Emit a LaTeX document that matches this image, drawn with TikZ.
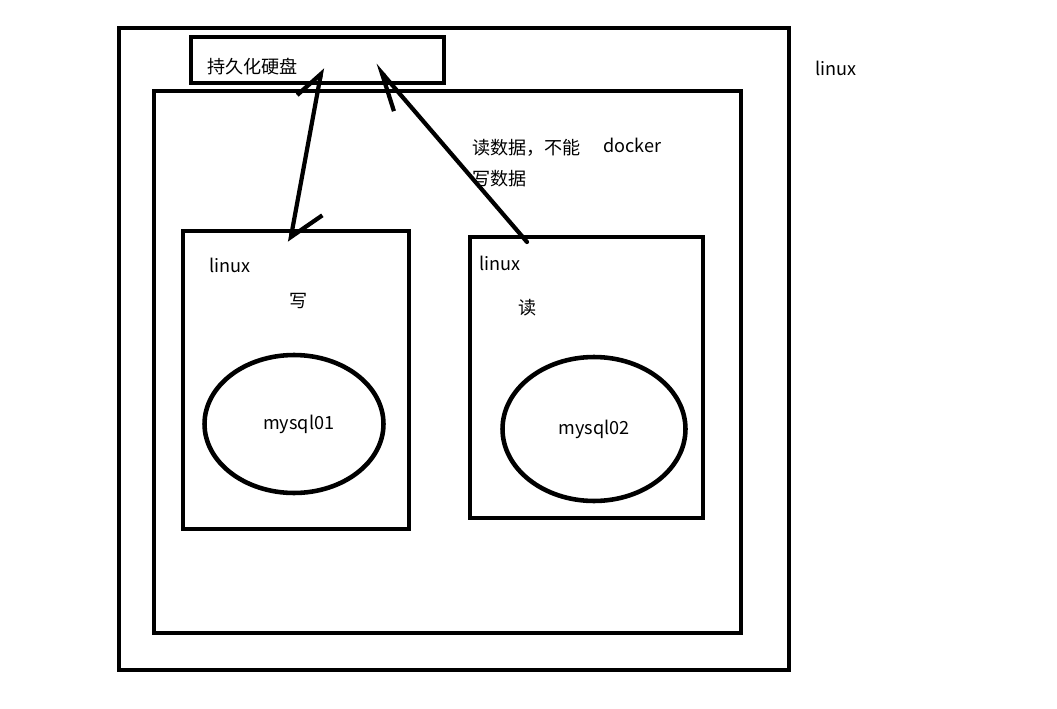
\documentclass[tikz,border=0pt]{standalone}
\usepackage{fontspec}
\setmainfont{Noto Sans CJK SC}
\usepackage{tikz}
\usetikzlibrary{shapes.geometric, arrows.meta, positioning}

\begin{document}
\begin{tikzpicture}[
    x=0.02cm, y=-0.02cm,
    every node/.style={font=\fontsize{10.3}{12}\selectfont},
    frame/.style={rectangle, draw=black, line width=2.6pt, inner sep=0pt},
    db/.style={ellipse, draw=black, line width=2.6pt, inner sep=0pt},
    txt/.style={anchor=west, inner sep=0pt},
    arrow/.style={line width=2.4pt, line cap=round}
]
\useasboundingbox (0,0) rectangle (1057,709);

% Host and container boxes
\node[frame, minimum width=13.4cm, minimum height=12.84cm] (host) at (454,349) {};
\node[frame, minimum width=11.74cm, minimum height=10.84cm] (docker) at (447.5,362) {};
\node[frame, minimum width=5.06cm, minimum height=0.92cm] (disk) at (317.5,60) {};
\node[txt] (disklbl) at (207,67) {持久化硬盘};

% Labels of host and docker
\node[txt] (hostlbl) at (815,68) {linux};
\node[txt] (dockerlbl) at (603,145) {docker};
\node[txt, align=left, font=\fontsize{10.3}{18}\selectfont] (readnote) at (472,163) {读数据，不能\\写数据};

% Left container: write
\node[frame, minimum width=4.52cm, minimum height=5.96cm] (wbox) at (296,380) {};
\node[txt] (wlinux) at (209,265) {linux};
\node[txt] (wlbl) at (289,301) {写};
\node[db, minimum width=3.58cm, minimum height=2.76cm] (mysqlA) at (294,424) {\hspace{5.4pt}\raisebox{-2pt}{mysql01}};

% Right container: read
\node[frame, minimum width=4.66cm, minimum height=5.62cm] (rbox) at (586.5,377.5) {};
\node[txt] (rlinux) at (479,263) {linux};
\node[txt] (rlbl) at (518,308) {读};
\node[db, minimum width=3.66cm, minimum height=2.88cm] (mysqlB) at (594,429) {\raisebox{-1.5pt}{mysql02}\hspace{13.6pt}};

% Arrow end points
\coordinate (diskW) at (322,68);
\coordinate (wtop) at (290,242);
\coordinate (rtop) at (527,242);
\coordinate (diskR) at (375,65);

% Arrows
\draw[arrow, {Straight Barb[harpoon, length=0.54cm, angle'=90]}-{Straight Barb[harpoon, length=0.5cm, angle'=76]}] (wtop) -- (diskW);
\draw[arrow, -{Straight Barb[harpoon, length=0.74cm, angle'=46]}] (rtop) -- (diskR);

\end{tikzpicture}
\end{document}
